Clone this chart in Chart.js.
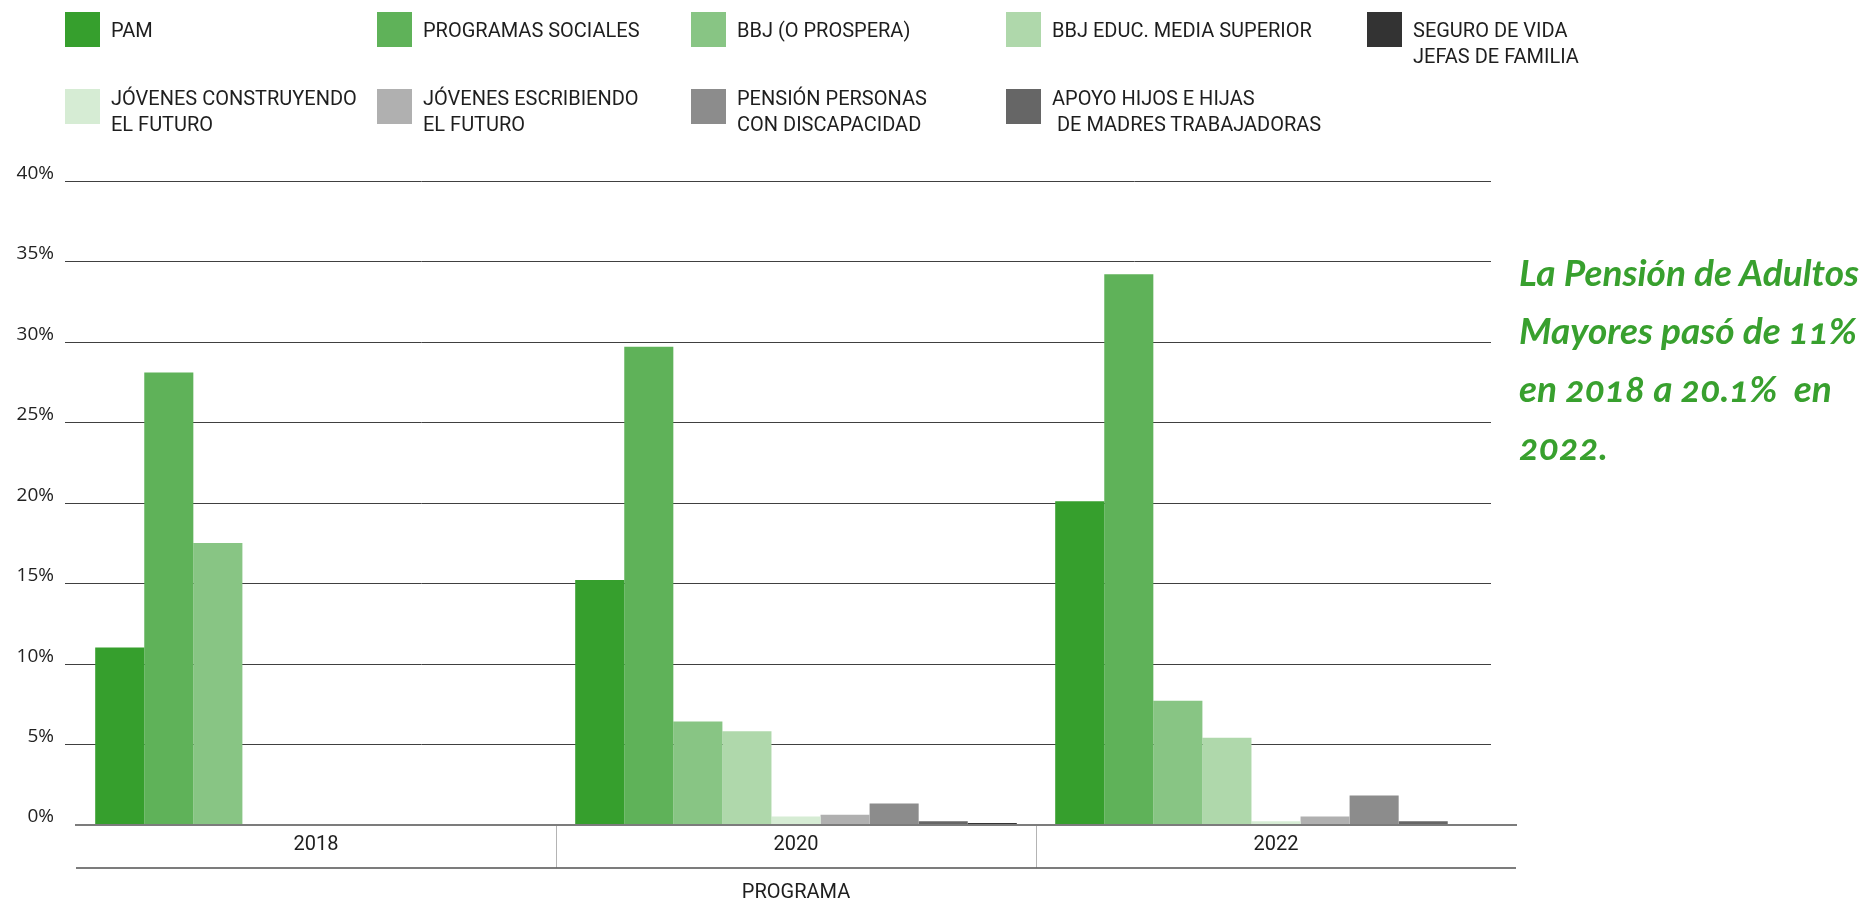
<!DOCTYPE html>
<html><head><meta charset="utf-8">
<script src="https://cdn.jsdelivr.net/npm/chart.js@4.4.1/dist/chart.umd.min.js"></script>
<style>
html,body{margin:0;padding:0;background:#fff;width:1870px;height:905px;overflow:hidden;}
#wrap{position:relative;width:1870px;height:905px;}
canvas{position:absolute;left:0;top:0;}
.sw{position:absolute;width:35px;height:35px;}
.lt{position:absolute;font-family:Roboto,sans-serif;font-size:20px;line-height:26px;color:#1e1e1e;white-space:pre;}
#note{position:absolute;left:1519px;top:243px;font-family:Lato,sans-serif;font-style:italic;font-weight:700;font-size:37px;line-height:58px;color:#38a02e;white-space:pre;font-variant-numeric:oldstyle-nums;}
</style></head>
<body><div id="wrap"><canvas id="c" width="1870" height="905"></canvas><div id="legend"></div><div id="note"></div></div>
<script>
// ---- data ----
const categories = ['2018', '2020', '2022'];
const legendLabels = [
  'PAM',
  'PROGRAMAS SOCIALES',
  'BBJ (O PROSPERA)',
  'BBJ EDUC. MEDIA SUPERIOR',
  'JÓVENES CONSTRUYENDO\nEL FUTURO',
  'JÓVENES ESCRIBIENDO\nEL FUTURO',
  'PENSIÓN PERSONAS\nCON DISCAPACIDAD',
  'APOYO HIJOS E HIJAS\n DE MADRES TRABAJADORAS',
  'SEGURO DE VIDA\nJEFAS DE FAMILIA'
];
const seriesColors = ['#369f2d', '#5fb259', '#88c584', '#afd8ab', '#d6ecd4', '#b0b0b0', '#8c8c8c', '#666666', '#333333'];
const pam = [11.0, 15.2, 20.1];
const programasSociales = [28.1, 29.7, 34.2];
const bbjProspera = [17.5, 6.4, 7.7];
const bbjEducMedia = [null, 5.8, 5.4];
const jovenesConstruyendo = [null, 0.5, 0.2];
const jovenesEscribiendo = [null, 0.6, 0.5];
const pensionDiscapacidad = [null, 1.3, 1.8];
const apoyoHijos = [null, 0.2, 0.2];
const seguroVida = [null, 0.1, null];
const yTickValues = [0, 5, 10, 15, 20, 25, 30, 35, 40];
const xAxisTitle = 'PROGRAMA';
const noteText = 'La Pensión de Adultos\nMayores pasó de 11%\nen 2018 a 20.1%  en\n2022.';
const legendOrder = [0, 1, 2, 3, 8, 4, 5, 6, 7];

const seriesValues = [pam, programasSociales, bbjProspera, bbjEducMedia, jovenesConstruyendo,
  jovenesEscribiendo, pensionDiscapacidad, apoyoHijos, seguroVida];

// ---- legend (HTML) ----
const legendCols = [65, 377, 691, 1006, 1367];
const legendRows = [12, 89];
const legendTextDy = [5, -4];
const lg = document.getElementById('legend');
legendOrder.forEach((si, k) => {
  const row = k < 5 ? 0 : 1;
  const col = k < 5 ? k : k - 5;
  const sw = document.createElement('div');
  sw.className = 'sw';
  sw.style.left = legendCols[col] + 'px';
  sw.style.top = legendRows[row] + 'px';
  sw.style.background = seriesColors[si];
  lg.appendChild(sw);
  const t = document.createElement('div');
  t.className = 'lt';
  t.style.left = (legendCols[col] + 46) + 'px';
  t.style.top = (legendRows[row] + legendTextDy[row]) + 'px';
  t.textContent = legendLabels[si];
  lg.appendChild(t);
});
document.getElementById('note').textContent = noteText;

// ---- chart ----
const boxLine = {
  id: 'boxLine',
  afterDraw(chart) {
    const s = chart.scales.x, ctx = chart.ctx;
    const y = Math.round(s.top + s.options.grid.tickLength);
    ctx.save();
    ctx.strokeStyle = 'rgba(80,80,80,0.75)';
    ctx.lineWidth = 2;
    ctx.beginPath(); ctx.moveTo(s.left, y); ctx.lineTo(s.right, y); ctx.stroke();
    ctx.restore();
  }
};
// horizontal gridlines from the y scale's ticks, spanning 65px .. 1491px like the reference
const gridTrim = {
  id: 'gridTrim',
  beforeDatasetsDraw(chart) {
    const ys = chart.scales.y, ctx = chart.ctx, a = chart.chartArea;
    ctx.save();
    ctx.strokeStyle = '#404040';
    ctx.lineWidth = 1;
    ys.ticks.forEach(t => {
      if (t.value === 0) return;
      const py = Math.round(ys.getPixelForValue(t.value)) + 0.5;
      ctx.beginPath(); ctx.moveTo(a.left - 11, py); ctx.lineTo(a.right - 25, py); ctx.stroke();
    });
    ctx.restore();
  }
};

new Chart(document.getElementById('c'), {
  type: 'bar',
  data: {
    labels: categories,
    datasets: seriesValues.map((vals, i) => ({
      label: legendLabels[i].replace('\n', ' ').trim(),
      data: vals,
      backgroundColor: seriesColors[i],
      borderWidth: 0,
      barPercentage: 1,
      categoryPercentage: 0.92
    }))
  },
  options: {
    responsive: false,
    devicePixelRatio: 1,
    animation: false,
    layout: { padding: { left: 0, top: 181, right: 354, bottom: 0 } },
    plugins: { legend: { display: false }, tooltip: { enabled: false } },
    scales: {
      x: {
        z: 1,
        offset: true,
        grid: {
          display: true, drawOnChartArea: false, drawTicks: true, tickLength: 43, offset: true,
          tickWidth: 1,
          tickColor: (ctx) => (ctx.index === 1 || ctx.index === 2) ? '#b4b4b4' : 'rgba(0,0,0,0)'
        },
        border: { display: true, color: 'rgba(80,80,80,0.75)', width: 2 },
        ticks: { font: { family: 'Roboto', size: 20 }, color: '#1e1e1e', padding: -34.5, maxRotation: 0 },
        title: { display: true, text: xAxisTitle, font: { family: 'Roboto', size: 20 }, color: '#1e1e1e', padding: { top: 58.5, bottom: 0 } },
        afterFit: (s) => { s.height = 80.5; }
      },
      y: {
        min: 0, max: 40,
        afterBuildTicks: (s) => { s.ticks = yTickValues.map(v => ({ value: v })); },
        grid: {
          drawTicks: true, tickLength: 11, lineWidth: 1,
          color: 'rgba(0,0,0,0)',
          tickColor: 'rgba(0,0,0,0)'
        },
        border: { display: false },
        ticks: {
          font: { family: 'Open Sans', size: 19 }, color: '#222', padding: 11, labelOffset: -7.5,
          callback: (v) => v + '%'
        },
        afterFit: (s) => { s.width = 76; }
      }
    }
  },
  plugins: [gridTrim, boxLine]
});
</script>
</body></html>
